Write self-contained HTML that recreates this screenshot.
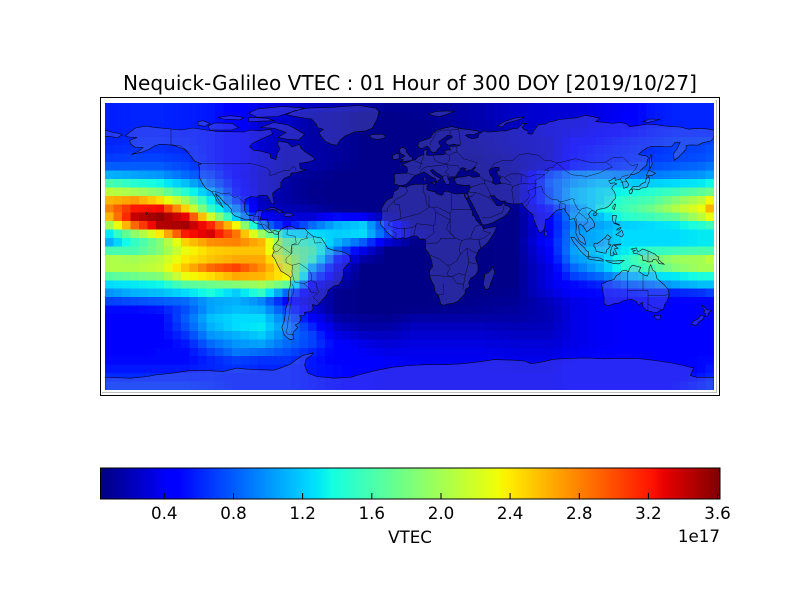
<!DOCTYPE html>
<html><head><meta charset="utf-8"><title>Nequick-Galileo VTEC</title>
<style>
html,body{margin:0;padding:0;background:#fff;}
svg{display:block;}
text{font-family:"DejaVu Sans","Liberation Sans",sans-serif;fill:#000;}
</style></head><body>
<svg id="svg" xmlns="http://www.w3.org/2000/svg" width="800" height="600" viewBox="0 0 800 600">
<defs>
<linearGradient id="jet" x1="0" x2="1" y1="0" y2="0">
<stop offset="0" stop-color="#000080"/>
<stop offset="0.11" stop-color="#0000ff"/>
<stop offset="0.125" stop-color="#0000ff"/>
<stop offset="0.34" stop-color="#00dbff"/>
<stop offset="0.35" stop-color="#00e5f7"/>
<stop offset="0.375" stop-color="#14ffe2"/>
<stop offset="0.64" stop-color="#eeff08"/>
<stop offset="0.65" stop-color="#f7f500"/>
<stop offset="0.66" stop-color="#ffec00"/>
<stop offset="0.89" stop-color="#ff1300"/>
<stop offset="0.91" stop-color="#e80000"/>
<stop offset="1" stop-color="#800000"/>
</linearGradient>
<clipPath id="mc"><rect x="105" y="103" width="609" height="287"/></clipPath>
</defs>
<rect width="800" height="600" fill="#fff"/>
<text x="410" y="90" text-anchor="middle" font-size="20" textLength="574" lengthAdjust="spacingAndGlyphs">Nequick-Galileo VTEC : 01 Hour of 300 DOY [2019/10/27]</text>
<rect x="105" y="103" width="609" height="287" fill="#0a30e8"/>
<g id="cells" clip-path="url(#mc)" shape-rendering="crispEdges"></g>
<path id="land" clip-path="url(#mc)" fill="rgb(140,140,222)" fill-opacity="0.28" fill-rule="evenodd" stroke="none"/>
<path id="coast" clip-path="url(#mc)" fill="none" stroke="#000" stroke-width="0.6" stroke-opacity="0.9"/>
<path id="borders" clip-path="url(#mc)" fill="none" stroke="#000" stroke-width="0.5" stroke-opacity="0.75"/>
<line x1="716.5" y1="100" x2="716.5" y2="393" stroke="#bdbdbd" stroke-width="1"/>
<line x1="102" y1="392.5" x2="717" y2="392.5" stroke="#bdbdbd" stroke-width="1"/>
<rect x="100.5" y="97.5" width="619" height="298" fill="none" stroke="#000" stroke-width="1"/>
<rect x="100.5" y="468" width="619.5" height="31" fill="url(#jet)" stroke="#000" stroke-width="1"/>
<g stroke="#000" stroke-width="1">
<line x1="164.3" y1="499" x2="164.3" y2="493"/>
<line x1="233.5" y1="499" x2="233.5" y2="493"/>
<line x1="302.6" y1="499" x2="302.6" y2="493"/>
<line x1="371.8" y1="499" x2="371.8" y2="493"/>
<line x1="441" y1="499" x2="441" y2="493"/>
<line x1="510.1" y1="499" x2="510.1" y2="493"/>
<line x1="579.3" y1="499" x2="579.3" y2="493"/>
<line x1="648.4" y1="499" x2="648.4" y2="493"/>
<line x1="717.5" y1="499" x2="717.5" y2="493"/>
</g>
<g font-size="16.7" text-anchor="middle">
<text x="164.3" y="519">0.4</text>
<text x="233.5" y="519">0.8</text>
<text x="302.6" y="519">1.2</text>
<text x="371.8" y="519">1.6</text>
<text x="441" y="519">2.0</text>
<text x="510.1" y="519">2.4</text>
<text x="579.3" y="519">2.8</text>
<text x="648.4" y="519">3.2</text>
<text x="717.5" y="519">3.6</text>
<text x="410" y="543">VTEC</text>
</g>
<text x="720" y="542" font-size="16.7" text-anchor="end">1e17</text>
</svg>
<script>
(function(){
var NS="http://www.w3.org/2000/svg";
var LONS=[-177.5,-162.5,-147.5,-132.5,-117.5,-102.5,-87.5,-72.5,-57.5,-42.5,-27.5,-12.5,2.5,22.5,42.5,62.5,82.5,97.5,112.5,127.5,142.5,157.5,172.5,177.5];
var V=[
[0.58,0.58,0.58,0.58,0.6,0.62,0.68,0.8, 1.1,1.6,2.1,2.6,2.8,2.6,2.0,1.3,1.1,1.6,2.05,2.05,1.65,1.25,1.0,0.7, 0.5,0.45,0.43,0.43,0.43,0.45,0.5,0.55,0.62,0.68],
[0.6,0.6,0.6,0.6,0.62,0.65,0.7,0.8, 1.05,1.45,2.0,2.7,3.2,3.4,2.9,1.9,1.5,1.6,2.0,2.05,1.75,1.3,1.1,0.75, 0.5,0.45,0.45,0.45,0.45,0.45,0.5,0.55,0.62,0.68],
[0.6,0.6,0.6,0.6,0.62,0.65,0.7,0.8, 1.0,1.35,1.85,2.45,3.25,3.55,3.45,2.4,1.85,1.85,2.1,2.15,1.85,1.35,1.15,0.8, 0.55,0.45,0.45,0.45,0.45,0.5,0.5,0.55,0.62,0.68],
[0.58,0.58,0.58,0.58,0.6,0.62,0.66,0.72, 0.85,1.15,1.45,2.0,2.5,3.3,3.5,3.2,2.5,2.3,2.4,2.55,2.3,1.65,1.25,0.85, 0.75,0.8,0.75,0.65,0.55,0.5,0.5,0.55,0.62,0.68],
[0.55,0.55,0.55,0.55,0.55,0.55,0.55,0.6, 0.7,0.85,1.1,1.3,1.5,2.2,3.15,3.35,2.75,2.5,2.55,2.9,2.45,1.75,1.4,1.05, 1.05,1.15,1.1,1.0,0.85,0.7,0.6,0.6,0.62,0.65],
[0.45,0.45,0.45,0.45,0.45,0.45,0.45,0.45, 0.45,0.5,0.55,0.7,0.95,1.2,2.35,2.85,2.8,2.55,2.65,3.05,2.65,1.85,1.2,1.1, 1.15,1.25,1.25,1.1,1.0,0.9,0.7,0.65,0.6,0.6],
[0.35,0.32,0.28,0.28,0.28,0.28,0.28,0.28, 0.25,0.25,0.25,0.22,0.25,0.4,0.95,1.95,2.6,2.55,2.65,2.75,2.6,2.0,1.5,0.95, 1.1,1.25,1.3,1.2,1.05,0.85,0.65,0.6,0.6,0.6],
[0.3,0.28,0.25,0.22,0.2,0.18,0.17,0.16, 0.15,0.14,0.14,0.15,0.2,0.3,0.5,1.3,1.7,1.85,2.1,2.3,2.35,1.7,0.85,0.5, 0.7,0.85,0.95,0.9,0.85,0.75,0.65,0.6,0.6,0.6],
[0.25,0.15,0.15,0.15,0.15,0.15,0.15,0.15, 0.1,0.08,0.07,0.08,0.15,0.3,0.85,1.25,1.45,1.6,1.5,1.1,0.8,0.45,0.3,0.25, 0.3,0.45,0.6,0.7,0.7,0.6,0.55,0.55,0.55,0.55],
[0.2,0.12,0.12,0.12,0.12,0.12,0.12,0.1, 0.06,0.06,0.06,0.06,0.08,0.5,1.1,1.2,1.1,0.85,0.55,0.35,0.25,0.15,0.08,0.08, 0.08,0.15,0.25,0.35,0.45,0.45,0.45,0.5,0.5,0.5],
[0.15,0.06,0.06,0.06,0.06,0.06,0.06,0.06, 0.06,0.06,0.06,0.06,0.06,0.4,1.2,1.25,0.8,0.35,0.15,0.05,0.05,0.05,0.05,0.05, 0.05,0.1,0.15,0.25,0.35,0.4,0.45,0.45,0.45,0.45],
[0.1,0.06,0.06,0.06,0.06,0.06,0.06,0.06, 0.06,0.06,0.06,0.06,0.06,0.15,0.6,0.7,0.3,0.05,0.05,0.05,0.05,0.05,0.05,0.05, 0.05,0.08,0.15,0.22,0.3,0.35,0.4,0.4,0.4,0.4],
[0.1,0.08,0.06,0.06,0.06,0.06,0.06,0.06, 0.06,0.06,0.06,0.06,0.06,0.06,0.1,0.15,0.06,0.05,0.05,0.05,0.05,0.05,0.05,0.05, 0.06,0.15,0.22,0.28,0.33,0.36,0.38,0.4,0.4,0.4],
[0.12,0.12,0.1,0.08,0.08,0.08,0.07,0.07, 0.06,0.06,0.06,0.06,0.06,0.06,0.06,0.06,0.06,0.05,0.05,0.05,0.05,0.05,0.05,0.06, 0.08,0.15,0.22,0.28,0.33,0.36,0.38,0.4,0.4,0.4],
[0.18,0.18,0.16,0.14,0.12,0.1,0.08,0.07, 0.06,0.06,0.06,0.06,0.06,0.06,0.06,0.06,0.06,0.05,0.05,0.05,0.05,0.05,0.06,0.08, 0.1,0.15,0.22,0.28,0.33,0.36,0.38,0.4,0.4,0.4],
[0.25,0.25,0.22,0.2,0.2,0.18,0.15,0.12, 0.1,0.1,0.1,0.1,0.08,0.06,0.06,0.06,0.06,0.06,0.06,0.06,0.06,0.06,0.08,0.1, 0.12,0.15,0.2,0.25,0.3,0.34,0.36,0.38,0.4,0.4],
[0.3,0.3,0.3,0.3,0.25,0.25,0.25,0.3, 0.7,0.8,0.75,0.75,0.55,0.45,0.45,0.45,0.5,0.45,0.4,0.35,0.35,0.35,0.3,0.22, 0.2,0.2,0.22,0.25,0.3,0.33,0.36,0.38,0.4,0.4],
[0.3,0.3,0.32,0.35,0.45,0.48,0.5,0.55, 0.95,1.05,1.15,1.15,1.0,1.05,0.95,1.0,1.0,1.05,1.0,0.85,0.7,0.5,0.45,0.35, 0.35,0.35,0.35,0.35,0.35,0.38,0.42,0.45,0.45,0.45],
[0.35,0.35,0.38,0.42,0.5,0.55,0.58,0.62, 1.0,1.2,1.3,1.3,1.35,1.15,1.05,1.1,1.1,1.2,1.15,1.1,0.85,0.6,0.5,0.4, 0.4,0.4,0.4,0.4,0.4,0.42,0.45,0.45,0.45,0.45],
[0.4,0.42,0.45,0.5,0.58,0.6,0.62,0.68, 0.95,1.2,1.35,1.5,1.55,1.45,1.2,1.25,1.25,1.3,1.45,1.45,1.1,0.8,0.55,0.45, 0.42,0.42,0.42,0.42,0.42,0.43,0.45,0.45,0.45,0.45],
[0.55,0.55,0.55,0.58,0.62,0.65,0.68,0.75, 0.9,1.2,1.45,1.6,1.75,1.55,1.25,1.25,1.25,1.5,1.75,1.6,1.25,0.9,0.6,0.45, 0.45,0.45,0.45,0.45,0.45,0.45,0.45,0.45,0.45,0.45],
[0.6,0.6,0.6,0.62,0.68,0.7,0.72,0.8, 0.95,1.25,1.55,1.85,2.05,1.7,1.3,1.25,1.25,1.55,1.95,1.85,1.3,1.05,0.6,0.45, 0.45,0.45,0.45,0.45,0.45,0.45,0.45,0.45,0.45,0.5],
[0.6,0.6,0.6,0.62,0.7,0.72,0.75,0.85, 1.0,1.3,1.7,2.1,2.3,2.1,1.45,1.3,1.3,1.6,2.0,2.0,1.4,1.15,0.65,0.45, 0.45,0.45,0.45,0.45,0.45,0.45,0.5,0.5,0.55,0.6],
[0.6,0.6,0.6,0.62,0.7,0.75,0.78,0.88, 1.05,1.35,1.75,2.35,2.6,2.3,1.55,1.3,1.3,1.6,2.1,2.0,1.4,1.15,0.7,0.45, 0.45,0.45,0.45,0.45,0.45,0.45,0.5,0.55,0.6,0.65]
];
function pw(t,pts){for(var i=1;i<pts.length;i++){if(t<=pts[i][0]){var a=pts[i-1],b=pts[i];return a[1]+(b[1]-a[1])*(t-a[0])/(b[0]-a[0]);}}return pts[pts.length-1][1];}
function jet(t){
 t=Math.max(0,Math.min(1,t));
 var r=pw(t,[[0,0],[0.35,0],[0.66,1],[0.89,1],[1,0.5]]);
 var g=pw(t,[[0,0],[0.125,0],[0.375,1],[0.64,1],[0.91,0],[1,0]]);
 var b=pw(t,[[0,0.5],[0.11,1],[0.34,1],[0.65,0],[1,0]]);
 return "rgb("+Math.round(r*255)+","+Math.round(g*255)+","+Math.round(b*255)+")";
}
var cg=document.getElementById("cells");
var cw=609/72, ch=287/34;
for(var j=0;j<72;j++){
 var lon=-177.5+5*j;
 var k=0; while(k<LONS.length-2 && lon>LONS[k+1]) k++;
 var f=(lon-LONS[k])/(LONS[k+1]-LONS[k]);
 for(var i=0;i<34;i++){
  var v=V[k][i]*(1-f)+V[k+1][i]*f;
  var r=document.createElementNS(NS,"rect");
  r.setAttribute("x",(105+j*cw).toFixed(2));
  r.setAttribute("y",(103+i*ch).toFixed(2));
  r.setAttribute("width",(cw+0.6).toFixed(2));
  r.setAttribute("height",(ch+0.6).toFixed(2));
  r.setAttribute("fill",jet((v-0.028)/3.588));
  cg.appendChild(r);
 }
}
var LAND=[
[[-168,65.6],[-165,68],[-162,70.2],[-156,71.3],[-150,70.4],[-141,69.6],[-135,69],[-128,70.2],[-120,69],[-114,68.2],[-108,68],[-98,67.8],[-94,69],[-89,68.5],[-82,69.5],[-81,66.5],[-87,64],[-93,61],[-94.5,59],[-92,57],[-88,56.5],[-82.5,55],[-82,52.5],[-79,51.5],[-78,55.5],[-76.5,58],[-78,60.5],[-77.5,62.5],[-72,61.5],[-69.5,59],[-65,60.5],[-64,58],[-61.5,56],[-57,53],[-56,51.5],[-60,50],[-65,49.2],[-64.5,46],[-61,45.5],[-66,44],[-70,43.5],[-70.5,41.8],[-74,40.5],[-76,38],[-76,35],[-78,34],[-81,31.5],[-80.5,28],[-80,25.5],[-81.5,25.2],[-82.8,28],[-84,30],[-86,30.4],[-89,30.2],[-90,29.2],[-94,29.6],[-97.2,27.8],[-97.6,24],[-97.5,21.5],[-96,19],[-94.5,18.2],[-91,18.8],[-90.5,21],[-87,21.5],[-87.5,18.5],[-88.3,16],[-84,15.8],[-83.5,14],[-83.5,11],[-81.5,9],[-79.5,9.5],[-77.4,8.6],[-77.8,7.2],[-80,7.4],[-80.5,8.2],[-83,8.2],[-85.7,10],[-87.5,13],[-91.5,14],[-94,16],[-96.5,15.7],[-100,17],[-103.5,18.3],[-105.5,20.5],[-105.2,22],[-107.5,24.5],[-109.5,26],[-112,29],[-114.8,31.5],[-114.2,30],[-112.5,27],[-110,23],[-112,24.8],[-114,27],[-115,29.5],[-117,32.5],[-120.5,34.5],[-122.5,37.5],[-124,40.5],[-124.3,43],[-124,46.5],[-124.7,48.4],[-123,49],[-127,50.5],[-130,54.5],[-133,57.5],[-137,59],[-140,60],[-145,60.5],[-148,60.5],[-151,59.5],[-154,57.5],[-158,56],[-162,55],[-164.5,54.5],[-160,56.5],[-157.5,58.5],[-162,58.7],[-164.5,60.5],[-165.5,62.5],[-164,63.5],[-161,64.5],[-166,64.8]],
[[-73,78],[-68,80.5],[-60,82],[-45,82.5],[-30,83.5],[-20,82],[-18,80],[-19,76],[-21,72],[-22,70],[-26,68.5],[-32,68],[-38,65.5],[-41,63],[-43,60],[-46,60.5],[-50,62.5],[-52.5,65.5],[-53.5,67.5],[-51,69.5],[-54.5,70.5],[-55,72.5],[-58,75.5],[-65,76.5]],
[[-80,73.5],[-72,72],[-67,69.5],[-62,66.5],[-65.5,63],[-72,63.5],[-78,64.5],[-73,67.5],[-80,70],[-88,70.5]],
[[-90,76.5],[-78,77],[-72,79],[-62,82],[-75,83],[-90,81.5],[-95,79]],
[[-118,69],[-105,69],[-101,70.5],[-105,73],[-115,73.2],[-119,71.5]],
[[-125,72],[-121,71],[-118,73],[-122,74.5],[-125,74]],
[[-95,74],[-80,74.5],[-84,76],[-95,76.5]],
[[-110,75.5],[-100,75],[-98,76.5],[-106,77.5],[-113,76.5]],
[[-180,68.9],[-175,67.5],[-171.5,67],[-169.7,66],[-171,65.5],[-172.5,64.4],[-176,65],[-179,65.2],[-180,65.1]],
[[-77.4,8.6],[-75.5,10.5],[-72,12],[-70,12],[-67,10.6],[-62,10.7],[-60,8.5],[-57,6],[-52,5],[-50,1.8],[-48.5,-1],[-44,-2.5],[-40,-2.9],[-35.3,-5.3],[-35,-9],[-37,-11],[-39,-13.5],[-39.2,-17.5],[-40.8,-21.5],[-42,-23],[-44.5,-23.3],[-48,-25.8],[-48.7,-28.5],[-50.5,-30.5],[-53,-33.5],[-54.5,-34.8],[-57.5,-34.5],[-57,-36.5],[-58,-38.5],[-62,-39],[-62.3,-40.8],[-65,-41],[-64,-42.5],[-65,-45],[-67.5,-46.5],[-66,-48],[-68.5,-50.5],[-69,-52],[-68.5,-54.8],[-71,-55],[-74,-52.5],[-75.5,-48],[-74,-44],[-73.5,-40],[-73.3,-37],[-71.5,-32],[-71.5,-27],[-70.5,-23.5],[-70.2,-18.5],[-72,-17],[-76,-14.5],[-78,-11],[-79.8,-7],[-81.2,-5.5],[-80,-2.5],[-80.8,-1],[-80,1],[-78.8,2],[-77.3,4],[-77.4,7]],
[[-9,43],[-8.8,39],[-9,37],[-6,36.2],[-5.5,36],[-2,36.7],[0,38.7],[3,42],[6,43],[8.5,44.2],[10.5,43],[12.5,41.5],[15.5,40],[16,38],[17,39],[18.5,40.3],[16,41.5],[13.5,43.5],[12.3,45],[13.7,45.6],[15,44.5],[19.5,41.5],[20,39.5],[21.5,37],[23,36.5],[24,38],[22.5,40.5],[24,40.9],[26.5,41],[28,41.5],[28,43],[29.6,45],[30.5,46.5],[31.8,46.6],[33.5,46],[32.5,45.4],[33.5,44.5],[35,45.3],[36.5,45.3],[38.5,47.1],[39,47],[38,45.5],[37.5,44.7],[39.5,44],[41.5,42.5],[41.5,41.5],[38,41],[35,42],[31,41.1],[29,41.1],[26.5,40.2],[27,38],[28,36.8],[30.5,36.5],[32.5,36.1],[35.5,36.5],[36,35],[35,33],[34.3,31.3],[34.9,29.5],[35.5,28],[37,25.5],[39,21.5],[41,17.5],[43,13],[45,12.8],[49,14],[52.5,16],[55.5,17.5],[57.5,19],[59.8,22.5],[58.5,23.7],[56.5,24.5],[56,26.2],[54,24.2],[51.5,24.3],[50.8,26],[50,26.7],[48.5,28.5],[48,30],[50,30.2],[51,28.8],[54,26.8],[56.5,27],[57.5,25.8],[61.5,25.2],[66.5,25.4],[67.5,23.9],[69,22.3],[70.5,20.8],[72.8,19],[73.5,16],[74.8,12.8],[76.5,8.8],[77.5,8],[78.5,9],[79.8,10.5],[80.2,13.5],[80.3,15.8],[82.3,16.5],[84.5,19],[87,21.5],[89,21.8],[91.5,22.5],[92.3,20.7],[94.3,18.2],[94.5,16],[97.5,16.5],[98.5,13],[98.5,10],[98.3,8],[100.4,3.5],[101.3,2.7],[103.5,1.3],[104.2,1.5],[103.4,4.5],[102.2,6.2],[100.4,7.5],[100,12.5],[100.9,13.4],[102.5,12.2],[104.8,8.7],[106,9.5],[107,10.5],[109.2,11.6],[109.3,13.5],[108.5,15.5],[106.7,17.5],[105.8,19],[106.8,20.5],[108,21.5],[110.2,20.2],[110.5,21.4],[113,22.3],[114.5,22.5],[116.5,23],[118.5,24.5],[119.7,26],[120.4,27.2],[121.7,28.5],[122,30],[121,32.5],[119.5,34.5],[120.5,36.2],[122.5,37],[121,37.8],[118.8,37.3],[118,38.5],[117.8,39],[119,39.3],[121.5,40.9],[121.6,39],[123,39.6],[124.5,40],[126,37.8],[126.5,34.5],[129,35.2],[129.5,36.8],[128.5,38.5],[127.5,39.8],[129.7,41],[130.7,42.5],[133,42.8],[135.5,43.9],[138,46.5],[140.3,48.3],[140.5,51],[141.3,52.5],[140.5,53.5],[137.5,54],[135.3,54.7],[137.5,56.5],[140.5,58.5],[143,59.3],[148,59.3],[152,59],[155,59.3],[156.8,61.5],[160,61.8],[158,57.5],[156,55],[156.5,51],[158.5,52.5],[160,54],[162,56],[163.5,57.7],[163.5,59.8],[165.8,60.2],[170.5,60],[173.5,61.5],[178,62.5],[179.5,64],[180,65],[180,68.9],[175,69.8],[170,70],[165,69.5],[160,70.8],[155,71],[150,71.5],[145,72.3],[140,72.5],[135,71.6],[130,71],[128.5,72.5],[125,73.5],[120,73],[113,73.7],[110,74],[112.5,76],[107,77.2],[104,77.7],[100,76.5],[98,76.2],[95,76],[92,75.5],[88,75.2],[86.5,74.5],[82,73.7],[80.5,72.5],[79,72.5],[76,72],[73.5,68.5],[72.5,66.5],[70,66.8],[70,68.5],[68,69.2],[66.5,70.5],[68,72.5],[69.5,73],[67,73],[64,70],[61,69.8],[57,68.5],[54,68.5],[50,68],[46,67.8],[44,68.5],[41,66.5],[40.5,64.5],[37,63.8],[35,64.5],[33,66],[35,66.4],[38,66.2],[41,67.5],[40,68.5],[35,69.2],[33,69.4],[29,70],[25,71],[20,70],[16,68.8],[14,67],[12.5,64.5],[10,63.5],[5.5,62],[5,60],[5.5,58.5],[7.5,58],[10.5,59.5],[12,58],[12.5,56.5],[14,55.5],[16,56.2],[16.5,57.5],[18.8,59.5],[17.5,61],[17.5,62.5],[21,64.5],[22.3,65.8],[25,65.5],[25.3,64.8],[21.5,62.5],[21.5,61],[23,60],[26,60.5],[30,60],[28,59.5],[24,59.3],[23.5,58.3],[24.3,57.3],[21,57],[21,56],[21.2,55],[19.5,54.3],[16,54.3],[13,54],[11,54],[10,54.5],[10.5,57.5],[8.2,56.8],[8.5,54.5],[5,53.2],[3.5,51.5],[1.6,51],[-1.5,49.7],[-4.5,48.5],[-1.5,47],[-1.2,44.7],[-1.8,43.4],[-4.5,43.4]],
[[47,45],[49,46.5],[51,47],[53,46.8],[53,45],[51.3,44.5],[52.5,42],[54,40.5],[53,39.5],[54,37.3],[51,36.8],[49,37.7],[49.5,40.2],[48,42],[47.5,43]],
[[-5.9,35.8],[-2,35.1],[1,36.5],[4,36.9],[8.6,36.9],[10.3,37.2],[11,36.8],[10.2,35.5],[11,35.2],[10,34.2],[11.2,33.2],[13,32.8],[15.2,32.3],[16,31.3],[19,30.3],[20,31],[20,32.2],[22,32.9],[25,31.7],[28,31],[31,31.5],[32.5,31.2],[32.5,30],[32.7,29.5],[34,27.5],[35.5,24],[37,21],[37.3,18.5],[38.5,17.8],[39.5,15.5],[42,13],[43.3,11.5],[44,10.5],[47,11.2],[51.2,11.8],[51,10.5],[50.5,9],[48.5,5.5],[46,2],[43,-0.5],[41,-2],[40,-4],[39,-6.5],[39.5,-8.5],[40.5,-10.5],[40.5,-14.5],[39,-17],[36,-19],[35,-21.5],[35.5,-24],[33,-25.5],[32.8,-28],[31,-30],[28.5,-32.5],[26,-33.7],[22.5,-34],[20,-34.8],[18.4,-34],[18,-32],[17,-29],[15.2,-27],[14.5,-23],[13,-20.5],[11.8,-17],[12,-14],[13.6,-12],[13.2,-9],[12.2,-6],[12,-5],[9.5,-1.5],[9.5,1.5],[9.8,3],[9,4],[8.5,4.5],[6,4.3],[4.5,6.2],[2,6.2],[-1,5.2],[-2,4.7],[-4,5.2],[-7.5,4.3],[-9,4.9],[-11.5,6.8],[-13.3,8.5],[-15,10.8],[-16.8,12.5],[-17.3,14.7],[-16.5,16.5],[-16.2,20],[-17,21],[-16,23.5],[-14.5,26],[-13,27.7],[-10,29.2],[-9.7,30.5],[-9.3,32.5],[-6.8,34]],
[[32.6,31.1],[34.2,31.2],[34.8,29.6],[34,27.9],[32.8,29.8]],
[[49.3,-12],[50.5,-15.5],[49.8,-17],[48.5,-20.5],[47,-25],[45,-25.5],[43.7,-23],[44,-20],[44.5,-16.5],[46.5,-15.5],[48,-14]],
[[-5.5,50],[1.5,51],[1.7,52.7],[0,53.5],[-0.5,54.5],[-1.8,55.8],[-2,57.6],[-3.3,58.6],[-5,58.6],[-6.2,56.8],[-5.5,55.5],[-4.9,54.8],[-3,54],[-3,53.2],[-4.5,52.8],[-5.2,51.8],[-3.5,51.4]],
[[-6,52],[-6.2,53.8],[-5.7,54.7],[-7.5,55.2],[-10,54],[-10,51.8],[-8.5,51.5]],
[[-22,64],[-24,65.5],[-22,66.4],[-16,66.5],[-14,65.5],[-15,64.3],[-18.5,63.4]],
[[12.4,38],[15.6,38.2],[15,36.7]],
[[8.2,41],[9.7,41],[9.6,39],[8.4,39]],
[[130.9,34],[132,35.4],[136,35.8],[137,37],[139.5,38.2],[140,40.5],[141.5,41.4],[142,39],[141,37],[140.8,35.7],[139.8,35],[137,34.6],[135.5,33.6],[133,34]],
[[129.7,33.2],[131.5,34],[132,32.8],[131,31.3],[130.2,31.3]],
[[140,41.7],[140.5,43.2],[141.5,45.4],[143,44.5],[145.5,43.4],[143.3,42],[141,41.9]],
[[142,46],[143.5,49],[143,51],[143.3,54.3],[142.5,54.3],[142,51.5],[141.8,48]],
[[120.2,22.5],[121,21.9],[121.9,24.8],[121.5,25.3],[120.2,23.5]],
[[108.7,18.5],[110.1,18.2],[111,19.6],[110,20.1],[108.7,19.5]],
[[120,18.5],[122.3,18.4],[122,16],[121.5,14],[124,13],[124,12.5],[120.6,13.9],[120,16]],
[[122,7],[123.5,8],[125.5,9.7],[126.5,7],[125.5,5.7],[124,6.3]],
[[123,10.5],[124,11],[125,11.3],[124,9.8],[122.5,9.8]],
[[109,1.5],[109.7,2],[111,1.8],[113,3.2],[115.5,5.2],[117,7],[119.2,5.3],[118,4.3],[117.8,1],[119,1],[118,-0.8],[116.5,-2.2],[116.2,-3.9],[114.5,-3.8],[112,-3.2],[110.3,-2.9],[110,-1],[109,0]],
[[95.3,5.6],[97.5,5.2],[100.3,2.1],[103.5,-0.8],[104.5,-2.5],[106,-3.2],[105.9,-5.8],[104.6,-5.9],[102.3,-4],[100.9,-2.5],[99,0],[97,2.5]],
[[105.2,-6.8],[106.5,-6],[108.5,-6.5],[111,-6.5],[112.6,-6.9],[114.5,-7.8],[114.4,-8.7],[111,-8.2],[108,-7.8],[106,-7.4]],
[[119,-5.5],[120.4,-5.5],[120.5,-3],[121.3,-4.8],[122.8,-4.6],[121.2,-1.5],[123.3,-1],[121,0.7],[124.5,1],[125,1.5],[120.5,1.2],[119.5,-0.5],[118.8,-2.8]],
[[116,-8.3],[119,-8.5],[122,-8.5],[125,-8.2],[127,-8.3],[125,-9.5],[123.5,-10.3],[120,-9.9],[117,-9]],
[[131,-1.5],[134,-0.8],[135,-3.3],[137.8,-1.5],[141,-2.6],[145,-4.5],[146,-5.5],[147.5,-6.3],[147,-7.5],[148.5,-9],[150.5,-10.5],[147.5,-10.1],[146,-8],[144,-7.7],[143.5,-9],[141,-9.1],[139,-8.1],[138,-8.4],[137.7,-5.6],[135,-4.4],[132.5,-4],[132,-2.8],[133.5,-2.5],[132.2,-2.1]],
[[113.5,-22],[114.2,-26],[115,-30],[115,-33.6],[116.5,-35],[118,-35],[121,-33.8],[124,-33.5],[126,-32.3],[129,-31.6],[131.5,-31.5],[134,-32.5],[135.5,-34.8],[137.5,-33],[138,-35.5],[140,-37.8],[143.5,-38.8],[146.3,-39.1],[148,-37.8],[150,-37.5],[150.8,-34.5],[152.5,-32],[153.5,-28.5],[153,-25.5],[150.8,-23],[149.2,-21.5],[146.3,-19],[145.3,-15],[143.8,-14],[142.6,-10.7],[141.6,-12.9],[141.5,-15.5],[140.5,-17.5],[139,-17],[137,-15.8],[135.5,-14.7],[136.8,-12.3],[133,-11.4],[131.5,-11.3],[130,-13],[129.5,-14.9],[127.5,-14],[125.5,-14.5],[124,-16.3],[122.2,-17.3],[121,-19.5],[117,-20.6],[114.5,-21.8]],
[[144.7,-40.7],[148.3,-40.9],[148,-43],[146.8,-43.6],[145.2,-42.3]],
[[172.7,-34.4],[174.5,-36],[175.9,-37.5],[178.5,-37.7],[177,-39.3],[176,-41.3],[174.7,-41.3],[175.2,-40],[173.8,-39.2],[174.6,-38],[173,-35.5]],
[[172.7,-40.5],[174.3,-41.3],[173,-43.5],[171.2,-44.5],[170,-46.3],[168.5,-46.6],[166.5,-46],[168,-44],[170.5,-43],[172,-41]],
[[79.8,6.5],[80,9.8],[81.2,8.5],[81.8,7],[80.6,5.9]],
[[-85,21.9],[-82,23.1],[-80,23],[-77,21.5],[-74.2,20.2],[-77.5,19.9],[-78.5,21.5],[-81,22],[-84,21.6]],
[[-74.4,18.5],[-72.8,19.9],[-70,19.7],[-68.4,18.6],[-71.5,17.6],[-74.4,18.2]],
[[11,78.5],[16,80],[22,80.3],[27,80],[21,78],[18,77],[14,77.5]],
[[52,71.5],[56,74],[62,76],[68,76.8],[66,75.5],[57,73],[55,70.7]],
[[138,74],[142,75.5],[148,75.2],[141,73.5]],
[[-155.9,20.2],[-155,19.8],[-154.8,19.5],[-155.6,18.9],[-156,19.6]],
[[-180,-77.5],[-165,-78],[-155,-77],[-150,-76],[-140,-75],[-130,-73.5],[-120,-73.5],[-110,-74],[-102,-72],[-98,-72.5],[-90,-73],[-80,-73.3],[-75,-71.5],[-70,-69.5],[-67,-67],[-63,-64.5],[-57,-63],[-58,-64.5],[-61,-66.5],[-62,-70],[-61,-73],[-60,-75],[-55,-77],[-45,-78],[-35,-77.5],[-28,-75.5],[-20,-73.5],[-15,-72.5],[-10,-71.5],[0,-70.5],[10,-70],[20,-70],[30,-69.5],[40,-68.5],[50,-67],[60,-67.3],[68,-67.8],[72,-69.5],[78,-68.5],[85,-66.8],[95,-66.2],[105,-66],[115,-66.5],[125,-66.2],[135,-66.3],[145,-67.5],[155,-69],[162,-70.5],[168,-72],[166,-76.5],[170,-77.5],[180,-77.5],[180,-90],[-180,-90]]
];
var BORD=[
[[-123,49],[-95,49],[-95,49.4],[-89,48],[-84.5,46.5],[-82.5,45],[-82.5,42],[-79,42.8],[-79,43.3],[-76.5,44],[-74.7,45],[-71,45],[-69,47.3],[-67.8,47],[-67,45]],
[[-141,69.6],[-141,60.3],[-135,59.5],[-130,55.5]],
[[-117,32.5],[-114.8,32.5],[-111,31.3],[-108.2,31.3],[-106.5,31.8],[-104.5,29.6],[-103,29],[-101.5,29.8],[-99.5,27.5],[-97.2,25.9]],
[[-92,14.5],[-92,17.8],[-89,17.8],[-89,15.8]],[[-89,15.8],[-87.5,13.5],[-85,12.5],[-83.5,11]],
[[-60,5],[-64,4],[-66,1],[-69.5,1],[-69.5,-4],[-73,-7],[-73,-9.5],[-70,-11],[-69,-11],[-65,-10],[-60,-13.5],[-58,-16],[-58,-20],[-55,-22],[-54.5,-25.6],[-53.6,-27],[-57,-30],[-53.4,-33.7]],
[[-69.5,-22],[-68.5,-24],[-68.5,-27],[-69.8,-30],[-70,-33],[-70.5,-36],[-71,-40],[-71.8,-44],[-72,-48],[-73,-50],[-72.3,-51.8],[-68.5,-52.3]],
[[-69,-11],[-69.5,-15],[-69,-17.5],[-68,-21],[-62.5,-22],[-58,-20]],
[[-62.5,-22],[-60,-24],[-58,-27.3],[-55,-27.5]],
[[-72,12],[-72.5,7],[-67.5,6],[-67,2],[-69.5,1],[-70,-2],[-70,-4.2],[-75.5,-0.2],[-78.8,1.4]],
[[-80.3,-3.4],[-78,-3],[-75.5,-0.2]],[[-70.3,-18.3],[-69.5,-17.5]],
[[-60,8.5],[-61,5.5],[-60,5]],[[-57,6],[-56,2],[-54,2.2],[-52,2.5]],
[[-17,21],[-13,21],[-13,23],[-8.7,27.3],[-8.7,25],[-6,25],[-5,16.5],[-12,14.5],[-12.5,12.4]],
[[-8.7,27.7],[-3,30.5],[-1.2,32.5],[-2,35.1]],
[[8.6,36.9],[8,33],[9.5,30],[10,25],[12,23.5],[14,23],[16,23.5],[24,19.5],[24,20],[25,22],[25,31.7]],
[[11.5,23.5],[11.5,30]],[[25,22],[37,22]],
[[24,20],[24,8.5],[27,5],[31,3.5],[34,4.5],[36,4.5],[41,4],[42,-1]],
[[14,23],[15.5,20.5],[15,13],[14,12.5],[14.5,8],[9,4]],
[[-5,16.5],[4,19],[6,19.5],[12,23.5]],
[[-12.5,12.4],[-8,11],[-5.5,10.4],[0,11],[3.5,11.7],[4,13.5],[14,12.5]],
[[4,13.5],[2.5,6.2]],[[-3,5],[-2.8,11]],[[-8,4.5],[-8,8],[-10,9],[-11,10]],
[[15.5,20.5],[24,15.7],[22.5,13],[22,10],[27,5]],
[[12,-5],[18,-7.5],[22,-11],[24,-11],[28,-8.5],[30,-4.5],[29.5,-1.5],[30,1.5],[31,3.5]],
[[9.5,1.5],[14,2],[16,2],[18,3.5],[18.5,5],[22,4.5],[27,5]],
[[12,-17],[24,-17.8],[25,-17.8],[29,-16],[33,-17],[32,-22.4],[31.5,-25.5]],
[[20,-22],[20,-24.8],[20,-28.5],[17,-28.5]],
[[25,-17.8],[28,-22],[32,-22.4]],
[[30,-4.5],[34,-1],[37.6,-3],[40,-4]],
[[34,-1],[35,-9.5],[40.5,-10.5]],
[[22,-11],[24,-13],[22,-16.5],[24,-17.8]],
[[33,-17],[35,-9.5]],
[[36,4.5],[37,8],[39,12],[42,13]],
[[42,-1],[41,4],[44,5],[47.8,8],[44,9],[43.3,11.5]],
[[-1.8,43.4],[3,42.5]],
[[6,43.5],[7.5,46],[10.5,47.5],[13,47.5],[17,48],[22,48.5],[26,48],[28.5,48],[30,45.8]],
[[8.5,54.5],[7,49.5],[6,46]],[[3,50.8],[6,49.5],[8,49]],
[[14,54],[15,51],[18,49.5],[22,49],[23.5,51],[23.5,54],[21.2,55]],
[[28,59.5],[28,56],[31,53],[31.5,52],[34,51.5],[40,49.5],[38.5,47.1]],
[[23.5,54],[26,55.5],[28,56]],
[[30,60],[30,62],[29,69.5]],
[[12.5,60],[12,61],[14,64],[16,68],[20,69],[25,69],[29,69.5]],
[[24,66],[24,68.5]],
[[19.5,41.5],[21,42],[23,41.5],[26,41.5],[28,42]],[[22,48.5],[23,46],[21,44],[23,43],[22.5,41]],
[[36,35],[42,37],[44.5,37.2],[44,39.5]],
[[41.5,41.5],[44,39.5],[48,38.4],[49,37.7]],
[[35,33],[36,32],[39,32],[42,31],[46.5,29],[48,30]],
[[39,32],[37,29.5],[34.9,29.5]],[[46.5,29],[51,24.6]],
[[43,17],[47,17],[52,19],[55,20],[55.5,22],[56,24.5]],
[[44.5,37.2],[46,35],[47.5,32],[48,30]],
[[61.5,25.2],[61,30],[60.5,33.5],[61,35.5],[60,36.5],[55,37.5],[54,37.3]],
[[61,35.5],[65,37],[68,37.2],[71.5,37],[74.5,37.2]],
[[66.5,25.4],[70,28],[71,30],[70,33],[74,34.5],[74.5,37.2]],
[[68.5,23.8],[70,25],[71,27.5],[74,30],[74.6,32.5],[74.5,35]],
[[74.5,35],[78,35.5],[79,32.5],[81,30],[84,28],[88,27.5],[88.2,26.5],[92,27],[96,28.3],[97.5,28],[97,27]],
[[88.5,22],[89,26],[92,25],[92.5,21]],
[[97,27],[98.5,24],[99.5,22],[101,21.5],[102,22.5],[105,23],[106.7,22.5],[108,21.5]],
[[98.5,10],[99,15],[98,17.5],[100,20],[101,21.5]],
[[100,20],[103,18],[105,16],[105.5,14.5],[102.5,12.2]],[[106.7,17.5],[105,16]],
[[47,45],[50,49],[55,51],[61,51],[65,54.5],[70,55],[76,54],[80,51],[83,51],[87,49.5]],
[[53,42],[56,41],[60,43],[66,43],[70,41],[74,42.5],[80,42.5],[82.5,45],[80,45],[83,47],[85,47],[87,49.5]],
[[87,49.5],[90,50],[98,52],[104,50.5],[108,49.5],[116,50],[120,52.5],[126,53],[131,48],[135,48.5],[133,45],[131,43],[130.7,42.5]],
[[87,49.5],[90,47],[92,45],[96,42.5],[105,41.5],[112,43.5],[117,46],[120,47],[116,50]],
[[80,42.5],[76,40],[74,39],[75,37.2],[74.5,37.2]],
[[56,41],[60,37.5]],[[66,43],[66,37.5]],
[[124.5,40],[126,41.5],[128,42],[129.7,42.5]],[[124.8,38],[128.5,38.5]],
[[129,-14.9],[129,-31.6]],
[[138,-16.5],[138,-26],[141,-26],[141,-34],[140.9,-38]],
[[129,-26],[138,-26]],
[[141,-29],[150,-29],[153.5,-28.5]],
[[141,-34],[144,-36],[148,-37],[150,-37.5]],
[[141,-2.6],[141,-9.1]],[[115.5,4.8],[117,4.2],[118,4.3]]
];
function X(lon){return 105+(lon+180)*609/360;}
function Y(lat){return 103+(85-lat)*287/170;}
function build(list,close){
 var d="";
 for(var p=0;p<list.length;p++){
  var poly=list[p], s="";
  for(var q=0;q<poly.length;q++){ s+=(q?"L":"M")+X(poly[q][0]).toFixed(1)+","+Y(poly[q][1]).toFixed(1); }
  d+=s+(close?"Z":"");
 }
 return d;
}
var dl=build(LAND,true);
document.getElementById("land").setAttribute("d",dl);
document.getElementById("coast").setAttribute("d",dl);
document.getElementById("borders").setAttribute("d",build(BORD,false));
})();
</script>
</body></html>
